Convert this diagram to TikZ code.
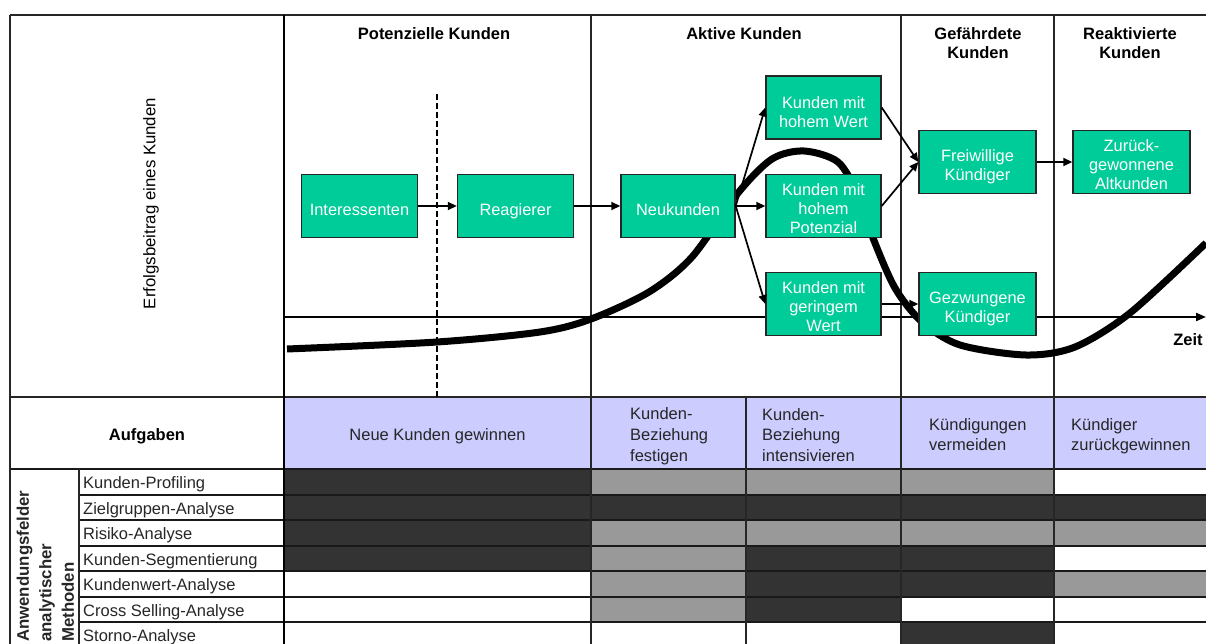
\documentclass[tikz,border=0pt]{standalone}
\usepackage{fontspec}
\setmainfont{Liberation Sans}
\usetikzlibrary{arrows.meta}
\definecolor{boxgreen}{HTML}{00CC99}
\definecolor{taskblue}{HTML}{CCCCFF}
\definecolor{cellDark}{HTML}{333333}
\definecolor{cellGray}{HTML}{999999}
% taller first line, so that the text block sits a little low in its box
\newcommand\boxtop[1][21.8pt]{\rule{0pt}{#1}}

\begin{document}
\begin{tikzpicture}[x=1pt,y=-1pt,
  stage/.style={draw=black!85, line width=1.4pt, fill=boxgreen, text=white,
    font=\fontsize{16.4}{18.8}\selectfont, align=center,
    minimum width=116pt, minimum height=63pt, inner sep=0pt},
  oneline/.style={text height=21.8pt, text depth=3.4pt},
  flow/.style={line width=1.7pt, -{Triangle[length=9pt,width=8pt]}},
  hdr/.style={font=\bfseries\fontsize{16.5}{19}\selectfont, align=center, inner sep=0pt},
  task/.style={font=\fontsize{16.5}{20.7}\selectfont, align=left, inner sep=0pt, text=black!85},
  rowlabel/.style={font=\fontsize{16.5}{20}\selectfont, anchor=base west, inner sep=0pt, text=black!85},
  gridline/.style={line width=1.3pt, black!85},
  rowline/.style={line width=2pt, black!90},
]
\useasboundingbox (0,0) rectangle (1206,644);
\clip (0,0) rectangle (1206,644);

% task row background
\fill[taskblue] (284,397) rectangle (1206,469);

% method matrix: row label and cell shades per task column
\foreach \r/\lab/\ca/\cb/\cc/\cd/\ce in {
  1/Kunden-Profiling/cellDark/cellGray/cellGray/cellGray/white,
  2/Zielgruppen-Analyse/cellDark/cellDark/cellDark/cellDark/cellDark,
  3/Risiko-Analyse/cellDark/cellGray/cellGray/cellGray/cellGray,
  4/Kunden-Segmentierung/cellDark/cellGray/cellDark/cellDark/white,
  5/Kundenwert-Analyse/white/cellGray/cellDark/cellDark/cellGray,
  6/Cross Selling-Analyse/white/cellGray/cellDark/white/white,
  7/Storno-Analyse/white/white/white/cellDark/white}{
  \pgfmathsetmacro{\yt}{469+(\r-1)*25.5}
  \fill[\ca] (284,\yt) rectangle (591,{\yt+25.5});
  \fill[\cb] (591,\yt) rectangle (746,{\yt+25.5});
  \fill[\cc] (746,\yt) rectangle (901,{\yt+25.5});
  \fill[\cd] (901,\yt) rectangle (1054,{\yt+25.5});
  \fill[\ce] (1054,\yt) rectangle (1206,{\yt+25.5});
  \node[rowlabel] (lab\r) at (83,{\yt+19.5}) {\lab};
}

% table rules
\foreach \r in {1,...,7}{
  \draw[rowline] (79,{469+\r*25.5}) -- (1206,{469+\r*25.5});
}
\draw[gridline] (10,15) -- (1206,15);
\draw[gridline] (10,397) -- (1206,397);
\draw[rowline] (10,469) -- (1206,469);
\draw[gridline] (10,15) -- (10,644);
\draw[line width=2.4pt] (284,15) -- (284,644);
\foreach \xc in {591,901,1054}{
  \draw[gridline] (\xc,15) -- (\xc,644);
}
\draw[gridline] (746,397) -- (746,644);
\draw[gridline] (79,469) -- (79,644);

% headings
\node[hdr, anchor=base] (hPot) at (434,39.5) {Potenzielle Kunden};
\node[hdr, anchor=base] (hAkt) at (744,39.5) {Aktive Kunden};
\node[hdr, anchor=north] (hGef) at (978,27.5) {Gefährdete\\Kunden};
\node[hdr, anchor=north] (hRea) at (1130,27.5) {Reaktivierte\\Kunden};
\node[font=\fontsize{16.8}{20}\selectfont, rotate=90, inner sep=0pt, text=black] (yLabel) at (151,203.5) {Erfolgsbeitrag eines Kunden};

% task row
\node[hdr, anchor=base] (aufg) at (147,440) {Aufgaben};
\node[task, anchor=base] (tNeu) at (437.5,440) {Neue Kunden gewinnen};
\node[task, anchor=north west] (tFes) at (630,407.5) {Kunden-\\Beziehung\\festigen};
\node[task, anchor=north west] (tInt) at (762,408) {Kunden-\\Beziehung\\intensivieren};
\node[task, anchor=north west] (tVer) at (929,418) {Kündigungen\\vermeiden};
\node[task, anchor=north west] (tZur) at (1071,418) {Kündiger\\zurückgewinnen};

% merged side label of the method rows
\node[font=\bfseries\fontsize{16.8}{22.5}\selectfont, align=left, rotate=90,
      anchor=north west, inner sep=0pt, text=black!85] (methods) at (16.5,642)
      {Anwendungsfelder\\analytischer\\Methoden};

% time axis
\coordinate (axStart) at (284,317);
\coordinate (axEnd) at (1206,317);
\draw[line width=2pt, -{Triangle[length=10pt,width=8pt]}] (axStart) -- (axEnd);
\node[font=\bfseries\fontsize{16.5}{20}\selectfont, anchor=base, inner sep=0pt] (zeit) at (1188,345) {Zeit};

% contribution curve over the customer life cycle
\draw[line width=7pt] plot[smooth, tension=0.5] coordinates {
  (287,349) (437,342) (540,332) (591,319) (649,292) (692,257) (738,193)
  (772,159) (804,151) (838,162) (858,195) (873,238) (895,288) (922,322)
  (960,345) (1026,355) (1075,347) (1130,313) (1206,243)};

% boundary between prospects and responders
\draw[line width=2.2pt, dash pattern=on 6pt off 3pt] (437,94) -- (437,397);

% life-cycle stages
\node[stage, oneline] (int) at (359.5,206) {Interessenten};
\node[stage, oneline] (rea) at (515.5,206) {Reagierer};
\node[stage, oneline, minimum width=114pt] (neu) at (678,206) {Neukunden};
\node[stage, minimum width=115pt] (hw) at (823.5,107.5) {\boxtop Kunden mit\\hohem Wert};
\node[stage, minimum width=115pt] (hp) at (823.5,206) {\boxtop[17pt]Kunden mit\\hohem\\Potenzial};
\node[stage, minimum width=115pt] (gw) at (823.5,304) {\boxtop[17pt]Kunden mit\\geringem\\Wert};
\node[stage, minimum width=117pt] (fk) at (977.5,162) {\boxtop Freiwillige\\Kündiger};
\node[stage, minimum width=117pt] (gk) at (977.5,304) {\boxtop Gezwungene\\Kündiger};
\node[stage, minimum width=117pt] (za) at (1131.5,162) {\boxtop[17pt]Zurück-\\gewonnene\\Altkunden};

% transitions
\draw[flow] (int) -- (rea);
\draw[flow] (rea) -- (neu);
\draw[flow] (neu.east) -- (hw.west);
\draw[flow] (neu.east) -- (hp.west);
\draw[flow] (neu.east) -- (gw.west);
\draw[flow] (hw.east) -- (fk.west);
\draw[flow] (hp.east) -- (fk.west);
\draw[flow] (gw) -- (gk);
\draw[flow] (fk) -- (za);
\end{tikzpicture}
\end{document}
